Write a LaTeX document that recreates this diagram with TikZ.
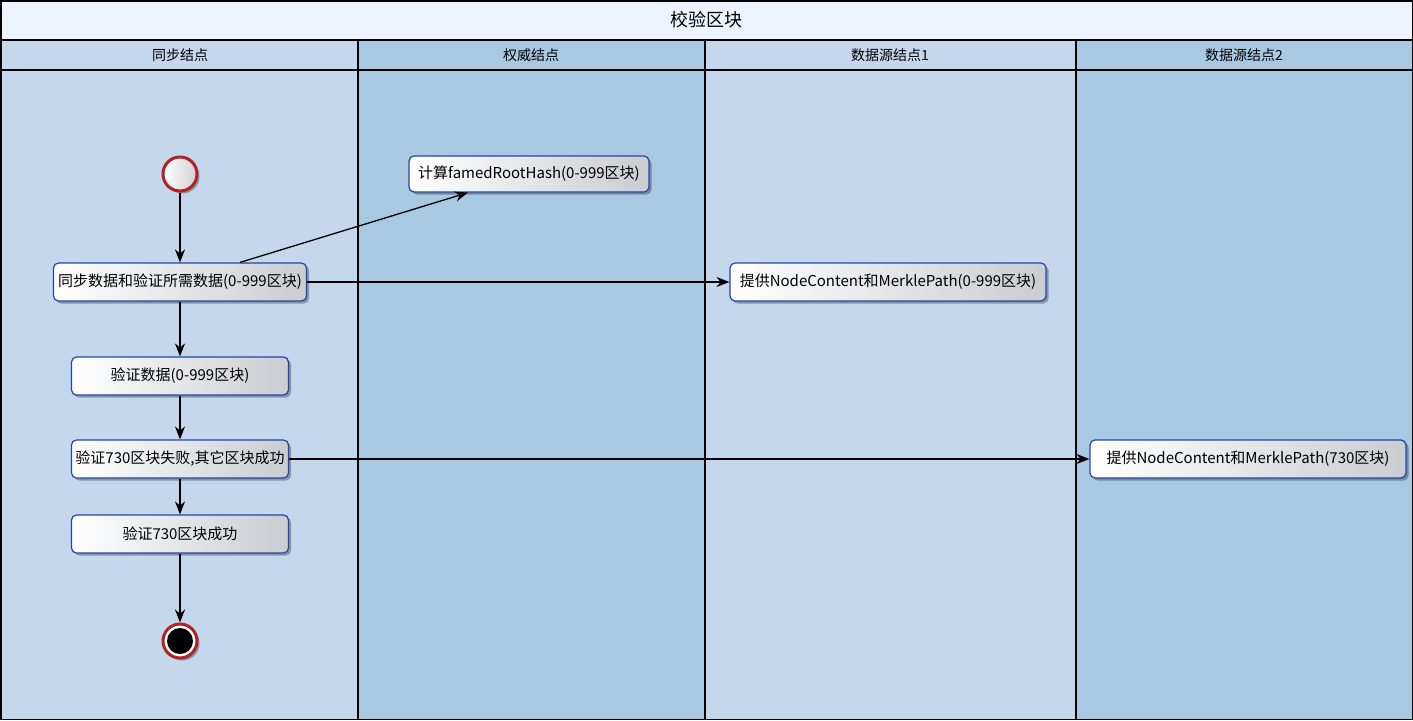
\documentclass[tikz,border=0pt]{standalone}
\usepackage{fontspec}
\setmainfont{Noto Sans CJK SC}
\usetikzlibrary{arrows.meta,shadows}
\definecolor{titlebg}{HTML}{EEF4FF}
\definecolor{laneA}{HTML}{C4D7EC}
\definecolor{laneB}{HTML}{A9C8E2}
\definecolor{boxline}{HTML}{2445A8}
\definecolor{boxend}{HTML}{C9CCD1}
\definecolor{ringred}{HTML}{B52025}
\tikzset{
  actbox/.style={draw=boxline, line width=1.2pt, rounded corners=5pt,
    left color=white, right color=boxend, minimum height=38pt, inner sep=2pt,
    font=\fontsize{15}{17}\selectfont,
    drop shadow={shadow xshift=2.5pt, shadow yshift=-2.5pt, opacity=0.3, fill=black}},
  flow/.style={-{Stealth[length=13pt,width=10pt]}, line width=1.3pt},
  headtxt/.style={font=\fontsize{14}{16}\selectfont},
  startnode/.style={circle, draw=ringred, line width=3pt, minimum size=34pt, inner sep=0pt,
    left color=white, right color=black!18,
    drop shadow={shadow xshift=2.5pt, shadow yshift=-2.5pt, opacity=0.3, fill=black}},
  endnode/.style={circle, draw=ringred, line width=3pt, minimum size=34pt, inner sep=0pt,
    fill=white,
    drop shadow={shadow xshift=2.5pt, shadow yshift=-2.5pt, opacity=0.3, fill=black}}
}
\begin{document}
\begin{tikzpicture}[x=1pt,y=-1pt]
\useasboundingbox (0,0) rectangle (1413,720);
% title and lanes
\fill[titlebg] (0,0) rectangle (1413,40);
\fill[laneA] (0,40) rectangle (358,720);
\fill[laneB] (358,40) rectangle (705,720);
\fill[laneA] (705,40) rectangle (1076,720);
\fill[laneB] (1076,40) rectangle (1413,720);
\draw[line width=1.5pt] (0.75,0.75) rectangle (1412.25,719.25);
\draw[line width=1.2pt] (0,40) -- (1413,40);
\draw[line width=1.2pt] (0,70) -- (1413,70);
\draw[line width=1.2pt] (358,40) -- (358,720);
\draw[line width=1.2pt] (705,40) -- (705,720);
\draw[line width=1.2pt] (1076,40) -- (1076,720);
\node[font=\fontsize{18}{20}\selectfont] (title) at (706,20) {校验区块};
\node[headtxt] (h1) at (180,55) {同步结点};
\node[headtxt] (h2) at (531,55) {权威结点};
\node[headtxt] (h3) at (890,55) {数据源结点1};
\node[headtxt] (h4) at (1244,55) {数据源结点2};
% nodes
\node[startnode] (start) at (180,174) {};
\node[actbox, minimum width=253pt] (A) at (180,282) {同步数据和验证所需数据(0-999区块)};
\node[actbox, minimum width=240pt, minimum height=36pt] (B) at (529,174) {计算famedRootHash(0-999区块)};
\node[actbox, minimum width=316pt] (C) at (888,282) {提供NodeContent和MerklePath(0-999区块)};
\node[actbox, minimum width=217pt] (D) at (180,376) {验证数据(0-999区块)};
\node[actbox, minimum width=217pt] (E) at (180,459) {验证730区块失败,其它区块成功};
\node[actbox, minimum width=217pt] (F) at (180,534) {验证730区块成功};
\node[actbox, minimum width=316pt] (G) at (1248,459) {提供NodeContent和MerklePath(730区块)};
\node[endnode] (end) at (180,641) {};
\fill[black] (end.center) circle (13pt);
% connectors
\draw[flow] (start) -- (A);
\draw[flow] ([xshift=60pt]A.north) -- ([xshift=-61pt]B.south);
\draw[flow] (A) -- (C);
\draw[flow] (A) -- (D);
\draw[flow] (D) -- (E);
\draw[flow] (E) -- (G);
\draw[flow] (E) -- (F);
\draw[flow] (F) -- (end);
\end{tikzpicture}
\end{document}
